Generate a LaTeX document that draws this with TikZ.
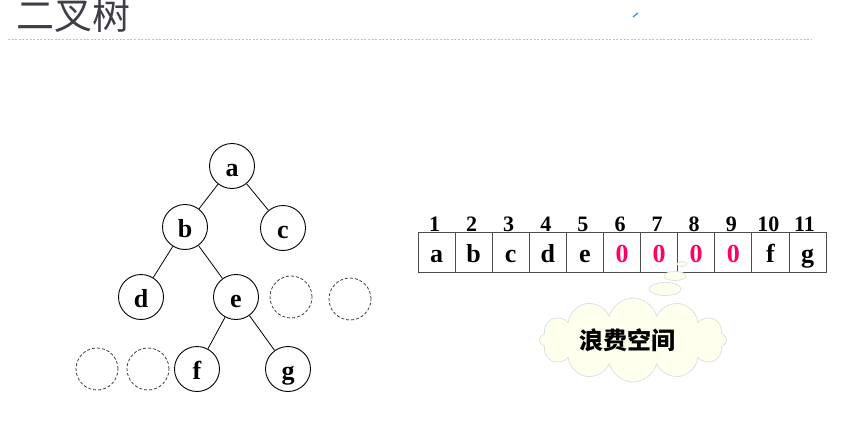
\documentclass[tikz,border=0pt]{standalone}
\usepackage{fontspec}
\usepackage{xcolor}
\setmainfont{Liberation Serif}
\newfontfamily\cjkfont{Noto Sans CJK SC}
\usepackage{tikz}
\usetikzlibrary{positioning, shapes.symbols, shapes.geometric}

\definecolor{titlegray}{HTML}{3E3E48}
\definecolor{rulegray}{HTML}{B4C4D2}
\definecolor{zerored}{HTML}{FF0066}
\definecolor{cloudfill}{HTML}{FFFFEE}
\definecolor{cloudline}{HTML}{D8E4E4}
\definecolor{markblue}{HTML}{3A8EE6}

\begin{document}
\begin{tikzpicture}[
        x=1pt, y=-1pt,
        on grid,
        treenode/.style={circle, draw=black, line width=0.9pt, minimum size=45pt, inner sep=0pt, text height=20pt, text depth=0pt, font=\fontsize{26}{26}\selectfont\bfseries},
        voidnode/.style={circle, draw=black!75, densely dashed, line width=0.8pt, minimum size=42pt, inner sep=0pt},
        edge/.style={draw=black, line width=0.8pt},
        cell/.style={rectangle, draw=black!70, line width=0.9pt, minimum width=37.1pt, minimum height=40pt, inner sep=0pt, outer sep=0pt, text height=20pt, text depth=0pt, font=\fontsize{26}{26}\selectfont\bfseries},
        idx/.style={inner sep=0pt, font=\fontsize{22}{22}\selectfont\bfseries},
        bubble/.style={ellipse, draw=cloudline, fill=cloudfill, line width=0.8pt, inner sep=0pt},
    ]
        \useasboundingbox (0,0) rectangle (849,428);

        % Title
        \node[anchor=west, inner sep=0pt, text=titlegray, font=\cjkfont\fontsize{38}{38}\selectfont] (title) at (16,15) {二叉树};
        \draw[rulegray, line width=0.8pt, dash pattern=on 2pt off 1.6pt] (8,39) -- (812,39);
        \draw[markblue, line width=1.2pt] (633,17) -- (638,13);

        % Tree
        \node[treenode] (a) at (232,166) {a};
        \node[treenode, below left=61pt and 47pt of a] (b) {b};
        \node[treenode, below right=62pt and 51pt of a] (c) {c};
        \node[treenode, below left=70pt and 44pt of b] (d) {d};
        \node[treenode, below right=70pt and 51pt of b] (e) {e};
        \node[treenode, below left=72pt and 39pt of e] (f) {f};
        \node[treenode, below right=72pt and 52pt of e] (g) {g};

        % Empty positions
        \node[voidnode, right=55pt of e] (void1) {};
        \node[voidnode, right=59pt of void1, yshift=-2pt] (void2) {};
        \node[voidnode, left=49pt of f] (void4) {};
        \node[voidnode, left=51pt of void4] (void3) {};

        % Edges
        \draw[edge] (a) -- (b);
        \draw[edge] (a) -- (c);
        \draw[edge] (b) -- (d);
        \draw[edge] (b) -- (e);
        \draw[edge] (e) -- (f);
        \draw[edge] (e) -- (g);

        % Sequential storage
        \node[cell] (c1) at (436.5,252) {a};
        \node[cell, right=37.1pt of c1] (c2) {b};
        \node[cell, right=37.1pt of c2] (c3) {c};
        \node[cell, right=37.1pt of c3] (c4) {d};
        \node[cell, right=37.1pt of c4] (c5) {e};
        \node[cell, right=37.1pt of c5, text=zerored] (c6) {0};
        \node[cell, right=37.1pt of c6, text=zerored] (c7) {0};
        \node[cell, right=37.1pt of c7, text=zerored] (c8) {0};
        \node[cell, right=37.1pt of c8, text=zerored] (c9) {0};
        \node[cell, right=37.1pt of c9] (c10) {f};
        \node[cell, right=37.1pt of c10] (c11) {g};

        % Indices
        \node[idx, above=28pt of c1, xshift=-2pt] {1};
        \node[idx, above=28pt of c2, xshift=-2pt] {2};
        \node[idx, above=28pt of c3, xshift=-2pt] {3};
        \node[idx, above=28pt of c4, xshift=-2pt] {4};
        \node[idx, above=28pt of c5, xshift=-2pt] {5};
        \node[idx, above=28pt of c6, xshift=-2pt] {6};
        \node[idx, above=28pt of c7, xshift=-2pt] {7};
        \node[idx, above=28pt of c8, xshift=-2pt] {8};
        \node[idx, above=28pt of c9, xshift=-2pt] {9};
        \node[idx, above=28pt of c10, xshift=-2pt] {10};
        \node[idx, above=28pt of c11, xshift=-3pt] {11};

        % Thought cloud
        \node[bubble, minimum width=10pt, minimum height=5pt] (bub1) at (682,264) {};
        \node[bubble, minimum width=22pt, minimum height=9pt] (bub2) at (675,276) {};
        \node[bubble, minimum width=32pt, minimum height=13pt] (bub3) at (665,289) {};
        \node[cloud, cloud puffs=12, aspect=2.2, draw=cloudline, fill=cloudfill, line width=0.8pt, minimum width=187pt, minimum height=84pt] (waste) at (633,340) {};
        \node[font=\cjkfont\bfseries\fontsize{24}{24}\selectfont] (wastetext) at (627,340) {浪费空间};
    \end{tikzpicture}
\end{document}
